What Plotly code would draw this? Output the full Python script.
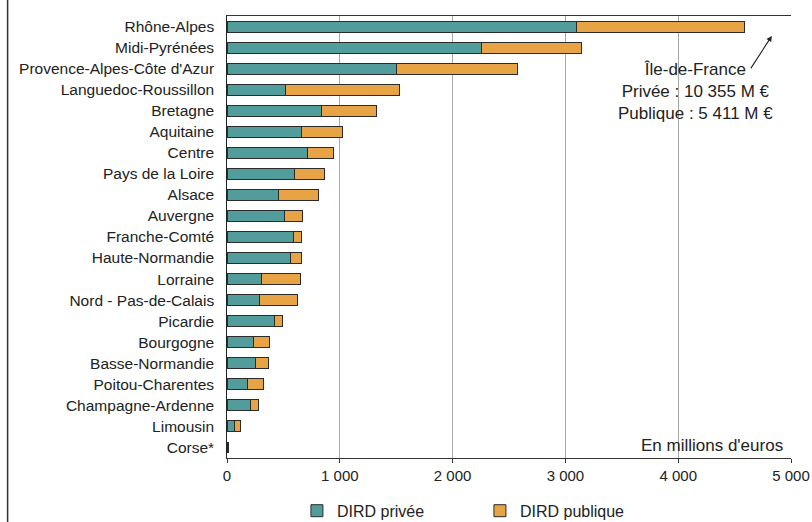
import plotly.graph_objects as go

regions = ["Rhône-Alpes", "Midi-Pyrénées", "Provence-Alpes-Côte d'Azur",
           "Languedoc-Roussillon", "Bretagne", "Aquitaine", "Centre",
           "Pays de la Loire", "Alsace", "Auvergne", "Franche-Comté",
           "Haute-Normandie", "Lorraine", "Nord - Pas-de-Calais", "Picardie",
           "Bourgogne", "Basse-Normandie", "Poitou-Charentes",
           "Champagne-Ardenne", "Limousin", "Corse*"]
dird_privee = [3095, 2258, 1500, 519, 837, 657, 713, 595, 457, 513, 586,
               560, 303, 286, 421, 239, 256, 183, 212, 65, 2]
dird_publique = [1490, 883, 1076, 1013, 492, 366, 230, 265, 356, 153, 71,
                 97, 345, 336, 74, 138, 112, 138, 65, 59, 12]
x_ticks = [0, 1000, 2000, 3000, 4000, 5000]

teal = "#529d9b"
orange = "#e8a345"
outline = "#2b2b2b"
font_family = "Liberation Sans, Arial, sans-serif"

fig = go.Figure()
fig.add_trace(go.Bar(y=regions, x=dird_privee, orientation="h",
                     name="DIRD privée", width=0.52,
                     marker=dict(color=teal, line=dict(color=outline, width=1))))
fig.add_trace(go.Bar(y=regions, x=dird_publique, orientation="h",
                     name="DIRD publique", width=0.52,
                     marker=dict(color=orange, line=dict(color=outline, width=1))))

fig.update_layout(
    barmode="stack",
    width=812, height=522,
    margin=dict(l=227, r=21, t=16, b=64, autoexpand=False),
    paper_bgcolor="white", plot_bgcolor="white",
    font=dict(family=font_family, size=15, color="#222"),
    separators=", ",
    showlegend=True,
    legend=dict(orientation="h", x=0.124, xanchor="left", y=-0.081, yanchor="top",
                font=dict(size=16, color="#222"),
                entrywidth=138, entrywidthmode="pixels",
                traceorder="normal"),
    xaxis=dict(range=[0, 5000], tickvals=x_ticks, tickformat=",d",
               automargin=False,
               showgrid=True, gridcolor="#a8a8a8", gridwidth=1.3,
               showline=True, linecolor="#333", linewidth=1.3, mirror=True,
               ticks="outside", ticklen=4, tickcolor="#333",
               tickfont=dict(size=15, color="#222"), zeroline=False),
    yaxis=dict(categoryorder="array", categoryarray=regions,
               range=[20.5, -0.5], showgrid=False, automargin=False,
               showline=True, linecolor="#222", linewidth=1.3,
               ticks="", ticksuffix="  ",
               tickfont=dict(size=15.5, color="#222")),
)

fig.add_annotation(xref="paper", yref="paper", x=0.83, y=0.905,
                   text="Île-de-France<br>Privée : 10 355 M €<br>Publique : 5 411 M €",
                   showarrow=False, align="center", xanchor="center", yanchor="top",
                   font=dict(size=17, color="#222"))
fig.add_annotation(xref="paper", yref="paper", x=0.966, y=0.955,
                   ax=-22, ay=34, text="", showarrow=True,
                   arrowhead=2, arrowsize=1, arrowwidth=1.1, arrowcolor="#222")
fig.add_annotation(xref="paper", yref="paper", x=0.99, y=0.0,
                   text="En millions d'euros", showarrow=False,
                   xanchor="right", yanchor="bottom", yshift=1,
                   font=dict(size=17, color="#222"))

fig.add_shape(type="line", xref="paper", yref="paper",
              x0=-0.389, x1=-0.389, y0=-0.2, y1=1.1,
              line=dict(color="#333", width=1.5))

fig.write_html("out.html", config={"displayModeBar": False},
               post_script="document.body.style.margin='0';document.body.style.overflow='hidden';")
